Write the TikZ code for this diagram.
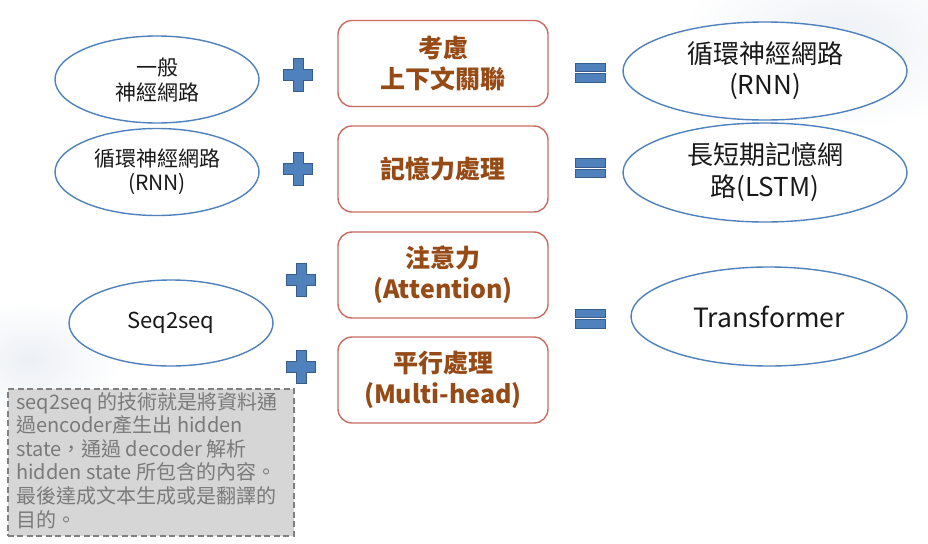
\documentclass[tikz,border=0pt]{standalone}
\usepackage{fontspec}
\setmainfont{Noto Sans CJK TC}
\usetikzlibrary{shapes.geometric}

\definecolor{ovalline}{RGB}{79,129,189}
\definecolor{symfill}{RGB}{79,129,189}
\definecolor{symline}{RGB}{56,93,138}
\definecolor{boxline}{RGB}{200,108,98}
\definecolor{boxtext}{RGB}{150,74,22}
\definecolor{notefill}{RGB}{214,214,214}
\definecolor{noteline}{RGB}{128,128,128}
\definecolor{notetext}{RGB}{122,122,122}
\definecolor{haze}{RGB}{236,240,245}

\tikzset{
  oval/.style={ellipse, draw=ovalline, line width=1.4pt, fill=white, inner sep=0pt, align=center, text=black!90},
  featbox/.style={rectangle, rounded corners=14pt, draw=boxline, line width=1.4pt, fill=white,
    minimum width=210pt, minimum height=86pt, inner sep=0pt, align=center, text=boxtext,
    font=\fontsize{25}{31}\selectfont\bfseries},
  symshape/.style={fill=symfill, draw=symline, line width=0.8pt},
  plussign/.pic={
    \path[symshape] (-5,-16.5) -- (5,-16.5) -- (5,-5.5) -- (14.5,-5.5) -- (14.5,5.5) -- (5,5.5)
      -- (5,16.5) -- (-5,16.5) -- (-5,5.5) -- (-14.5,5.5) -- (-14.5,-5.5) -- (-5,-5.5) -- cycle;
  },
  equalsign/.pic={
    \path[symshape] (-15,-9.5) rectangle (15,-1);
    \path[symshape] (-15,1) rectangle (15,9.5);
  },
  note/.style={rectangle, draw=noteline, fill=notefill, dashed, dash pattern=on 6pt off 3.5pt, line width=1.5pt}
}

\begin{document}
\begin{tikzpicture}[x=1pt,y=-1pt]
\useasboundingbox (0,0) rectangle (928,543);
\fill[white] (0,0) rectangle (928,543);
% soft backdrop tint
\shade[inner color=haze, outer color=white, draw=none] (840,40) ellipse (160pt and 90pt);
\shade[inner color=haze, outer color=white, draw=none] (30,360) ellipse (90pt and 60pt);

% row 1
\node[oval, minimum width=204pt, minimum height=87pt, font=\fontsize{21}{25}\selectfont] (nn) at (157,79.5) {一般\\神經網路};
\pic at (298,75) {plussign};
\node[featbox] (ctx) at (443,63.5) {考慮\\上下文關聯};
\pic at (590,72.5) {equalsign};
\node[oval, minimum width=284pt, minimum height=98pt, font=\fontsize{26}{31}\selectfont] (rnn) at (765,71) {循環神經網路\\(RNN)};

% row 2
\node[oval, minimum width=204pt, minimum height=87pt, font=\fontsize{21}{24}\selectfont] (rnnin) at (157,172) {循環神經網路\\(RNN)};
\pic at (298,168.5) {plussign};
\node[featbox] (mem) at (443,169) {記憶力處理};
\pic at (590,168) {equalsign};
\node[oval, minimum width=284pt, minimum height=99pt, font=\fontsize{26}{32}\selectfont] (lstm) at (765,172.5) {長短期記憶網\\路(LSTM)};

% row 3
\node[oval, minimum width=204pt, minimum height=86pt, font=\fontsize{22}{28}\selectfont] (s2s) at (171,323) {Seq2seq};
\pic at (301,280) {plussign};
\pic at (301,366.5) {plussign};
\node[featbox] (att) at (443,275) {注意力\\(Attention)};
\node[featbox] (mh) at (443,380) {平行處理\\(Multi-head)};
\pic at (590,318.5) {equalsign};
\node[oval, minimum width=276pt, minimum height=99pt, font=\fontsize{26.5}{32}\selectfont] (tf) at (769,316.5) {Transformer};

% explanatory note
\node[note, minimum width=286pt, minimum height=147pt, anchor=north west] (notebox) at (7,388) {};
\node[anchor=north west, inner sep=0pt, align=left, text=notetext,
  font=\fontsize{20}{23.6}\selectfont] (notetxt) at (16,392)
  {seq2seq 的技術就是將資料通\\過encoder產生出 hidden\\state，通過 decoder 解析\\hidden state 所包含的內容。\\最後達成文本生成或是翻譯的\\目的。};
\end{tikzpicture}
\end{document}
